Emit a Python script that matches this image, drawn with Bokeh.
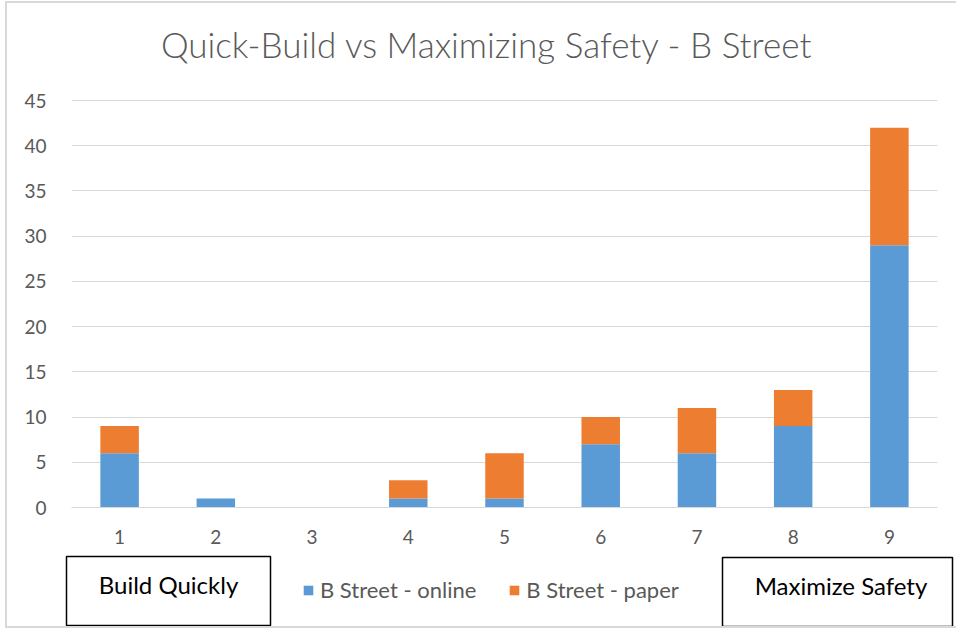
from bokeh.plotting import figure
from bokeh.layouts import column, row
from bokeh.models import (Range1d, FixedTicker, Label, Legend, LegendItem,
                          ColumnDataSource, BoxAnnotation, InlineStyleSheet)
from bokeh.embed import file_html
from bokeh.resources import INLINE

categories = [1, 2, 3, 4, 5, 6, 7, 8, 9]
online = [6, 1, 0, 1, 1, 7, 6, 9, 29]
paper = [3, 0, 0, 2, 5, 3, 5, 4, 13]
y_ticks = [0, 5, 10, 15, 20, 25, 30, 35, 40, 45]
series_names = ["B Street - online", "B Street - paper"]
series_colors = ["#5B9BD5", "#ED7D31"]
title_text = "Quick-Build vs Maximizing Safety - B Street"
left_box_text = "Build Quickly"
right_box_text = "Maximize Safety"

FONT = "Lato"
GREY = "#595959"
W = 956

src = ColumnDataSource(dict(x=categories, online=online, paper=paper))

# ---- main chart (frame extends upward to hold the title; value axis tops out at 45) ----
p = figure(width=W, height=552, output_backend="svg", toolbar_location=None,
           x_range=Range1d(0.5, 9.5), y_range=Range1d(0, 53.85),
           min_border_left=71, min_border_right=19, min_border_top=20, min_border_bottom=45)
p.outline_line_color = None

rs = p.vbar_stack(["online", "paper"], x="x", width=0.4, source=src,
                  color=series_colors, line_color=None)

p.xgrid.visible = False
p.ygrid.ticker = FixedTicker(ticks=y_ticks)
p.ygrid.grid_line_color = "#D9D9D9"
p.ygrid.grid_line_width = 1

p.yaxis.ticker = FixedTicker(ticks=y_ticks)
p.yaxis.axis_line_color = None
p.yaxis.major_tick_line_color = None
p.yaxis.minor_tick_line_color = None
p.yaxis.major_label_standoff = 19
p.yaxis.major_label_text_font = FONT
p.yaxis.major_label_text_font_size = "19px"
p.yaxis.major_label_text_color = GREY

p.xaxis.ticker = FixedTicker(ticks=categories)
p.xaxis.axis_line_color = "#D9D9D9"
p.xaxis.major_tick_line_color = None
p.xaxis.minor_tick_line_color = None
p.xaxis.major_label_standoff = 16
p.xaxis.major_label_text_font = FONT
p.xaxis.major_label_text_font_size = "19px"
p.xaxis.major_label_text_color = GREY

p.add_layout(Label(x=5.0, y=51.2, x_offset=-17.5, text=title_text,
                   text_align="center", text_baseline="middle",
                   text_font="Lato Light", text_font_size="35px", text_color=GREY))

# ---- bottom strip: boxes and legend ----
H2 = 77
p2 = figure(width=W, height=H2, output_backend="svg", toolbar_location=None,
            x_range=Range1d(0, W), y_range=Range1d(0, H2),
            x_axis_type=None, y_axis_type=None,
            min_border_left=0, min_border_right=0, min_border_top=0, min_border_bottom=0)
p2.outline_line_color = None
p2.grid.visible = False

# zero-height swatch renderers (only used to give the legend its colour keys)
swatch = ColumnDataSource(dict(x=[0], top=[0]))
leg_rs = [p2.vbar(x="x", top="top", bottom="top", width=1, source=swatch, color=c, line_color=None)
          for c in series_colors]
legend = Legend(items=[LegendItem(label=n, renderers=[r]) for n, r in zip(series_names, leg_rs)],
                orientation="horizontal", location=(302, 26),
                glyph_width=12, glyph_height=12, label_standoff=6, spacing=32,
                label_height=20, padding=0, margin=0, border_line_color=None,
                background_fill_alpha=0,
                label_text_font=FONT, label_text_font_size="22px", label_text_color=GREY)
p2.add_layout(legend)

for (l, r, b, t) in [(66, 270, 4, 73), (722, 952, 3, 72)]:
    p2.add_layout(BoxAnnotation(left=l, right=r, bottom=b, top=t, fill_color="white",
                                fill_alpha=1, line_color="black", line_alpha=1, line_width=1.5))

for cx, cy, txt in [(168, 45, left_box_text), (840.5, 44, right_box_text)]:
    p2.add_layout(Label(x=cx, y=cy, text=txt, text_align="center", text_baseline="middle",
                        text_font=FONT, text_font_size="24px", text_color="black"))

chart_border = InlineStyleSheet(css="""
:host { position: relative; }
:host::after {
  content: ""; position: absolute; left: 5px; top: 1px; right: 0px; bottom: 1px;
  border-style: solid; border-color: #D9D9D9; border-width: 2px 0 2px 2px;
  pointer-events: none; z-index: 10;
}
""")
layout = column(p, row(p2), spacing=0, stylesheets=[chart_border])
open("out.html", "w").write(file_html(layout, INLINE))
